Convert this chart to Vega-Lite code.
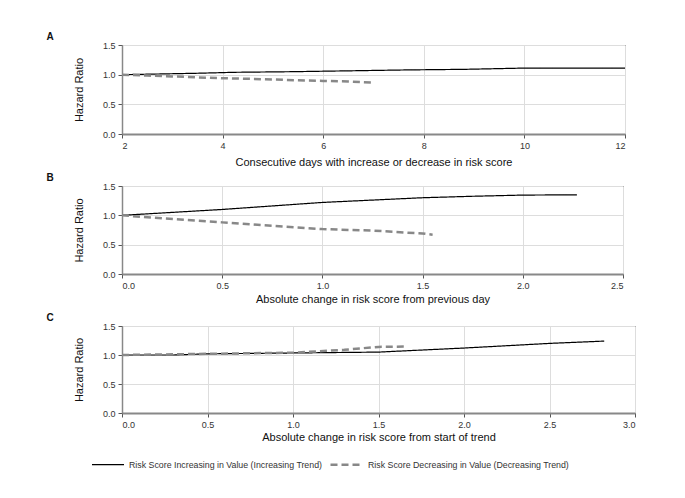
{
  "$schema": "https://vega.github.io/schema/vega-lite/v6.json",
  "autosize": {"type": "pad"},
  "padding": {"left": 45, "top": 31, "right": 5, "bottom": 5},
  "background": "white",
  "spacing": 52,
  "bounds": "flush",
  "resolve": {"scale": {"color": "shared", "strokeDash": "shared"}, "legend": {"color": "shared", "strokeDash": "shared"}},
  "config": {
    "font": "Liberation Sans",
    "view": {"stroke": "#000", "strokeWidth": 1},
    "axis": {
      "grid": true,
      "gridColor": "#dddddd",
      "gridWidth": 1,
      "labelFont": "Liberation Sans",
      "labelFontSize": 9,
      "labelColor": "#333",
      "titleFont": "Liberation Sans",
      "titleFontSize": 11,
      "titleFontWeight": "normal",
      "titleColor": "#111",
      "tickColor": "#555",
      "tickSize": 4,
      "labelPadding": 3,
      "domainColor": "#888"
    },
    "axisX": {"domainWidth": 2, "titlePadding": 4},
    "axisY": {"domainWidth": 1.5, "titlePadding": 18},
    "title": {"anchor": "start", "frame": "bounds", "fontSize": 10, "fontWeight": "bold", "font": "Liberation Sans", "color": "#111", "offset": -1, "dx": -27}
  },
  "datasets": {
    "pts": [
      {"panel": "A", "series": "Risk Score Increasing in Value (Increasing Trend)", "x": 2.0, "y": 1.0},
      {"panel": "A", "series": "Risk Score Increasing in Value (Increasing Trend)", "x": 2.95, "y": 1.015},
      {"panel": "A", "series": "Risk Score Increasing in Value (Increasing Trend)", "x": 3.57, "y": 1.025},
      {"panel": "A", "series": "Risk Score Increasing in Value (Increasing Trend)", "x": 4.24, "y": 1.04},
      {"panel": "A", "series": "Risk Score Increasing in Value (Increasing Trend)", "x": 5.37, "y": 1.05},
      {"panel": "A", "series": "Risk Score Increasing in Value (Increasing Trend)", "x": 6.53, "y": 1.065},
      {"panel": "A", "series": "Risk Score Increasing in Value (Increasing Trend)", "x": 7.66, "y": 1.08},
      {"panel": "A", "series": "Risk Score Increasing in Value (Increasing Trend)", "x": 8.81, "y": 1.09},
      {"panel": "A", "series": "Risk Score Increasing in Value (Increasing Trend)", "x": 9.95, "y": 1.11},
      {"panel": "A", "series": "Risk Score Increasing in Value (Increasing Trend)", "x": 12.0, "y": 1.11},
      {"panel": "A", "series": "Risk Score Decreasing in Value (Decreasing Trend)", "x": 2.0, "y": 1.0},
      {"panel": "A", "series": "Risk Score Decreasing in Value (Decreasing Trend)", "x": 2.5, "y": 0.985},
      {"panel": "A", "series": "Risk Score Decreasing in Value (Decreasing Trend)", "x": 3.0, "y": 0.97},
      {"panel": "A", "series": "Risk Score Decreasing in Value (Decreasing Trend)", "x": 3.5, "y": 0.955},
      {"panel": "A", "series": "Risk Score Decreasing in Value (Decreasing Trend)", "x": 4.0, "y": 0.94},
      {"panel": "A", "series": "Risk Score Decreasing in Value (Decreasing Trend)", "x": 4.5, "y": 0.93},
      {"panel": "A", "series": "Risk Score Decreasing in Value (Decreasing Trend)", "x": 5.0, "y": 0.92},
      {"panel": "A", "series": "Risk Score Decreasing in Value (Decreasing Trend)", "x": 5.5, "y": 0.905},
      {"panel": "A", "series": "Risk Score Decreasing in Value (Decreasing Trend)", "x": 6.0, "y": 0.895},
      {"panel": "A", "series": "Risk Score Decreasing in Value (Decreasing Trend)", "x": 6.5, "y": 0.885},
      {"panel": "A", "series": "Risk Score Decreasing in Value (Decreasing Trend)", "x": 7.0, "y": 0.865},
      {"panel": "B", "series": "Risk Score Increasing in Value (Increasing Trend)", "x": 0.0, "y": 1.0},
      {"panel": "B", "series": "Risk Score Increasing in Value (Increasing Trend)", "x": 0.1, "y": 1.02},
      {"panel": "B", "series": "Risk Score Increasing in Value (Increasing Trend)", "x": 0.3, "y": 1.06},
      {"panel": "B", "series": "Risk Score Increasing in Value (Increasing Trend)", "x": 0.5, "y": 1.1},
      {"panel": "B", "series": "Risk Score Increasing in Value (Increasing Trend)", "x": 0.75, "y": 1.16},
      {"panel": "B", "series": "Risk Score Increasing in Value (Increasing Trend)", "x": 1.0, "y": 1.22},
      {"panel": "B", "series": "Risk Score Increasing in Value (Increasing Trend)", "x": 1.25, "y": 1.26},
      {"panel": "B", "series": "Risk Score Increasing in Value (Increasing Trend)", "x": 1.5, "y": 1.3},
      {"panel": "B", "series": "Risk Score Increasing in Value (Increasing Trend)", "x": 1.75, "y": 1.325},
      {"panel": "B", "series": "Risk Score Increasing in Value (Increasing Trend)", "x": 2.0, "y": 1.345},
      {"panel": "B", "series": "Risk Score Increasing in Value (Increasing Trend)", "x": 2.27, "y": 1.35},
      {"panel": "B", "series": "Risk Score Decreasing in Value (Decreasing Trend)", "x": 0.0, "y": 1.0},
      {"panel": "B", "series": "Risk Score Decreasing in Value (Decreasing Trend)", "x": 0.2, "y": 0.95},
      {"panel": "B", "series": "Risk Score Decreasing in Value (Decreasing Trend)", "x": 0.5, "y": 0.88},
      {"panel": "B", "series": "Risk Score Decreasing in Value (Decreasing Trend)", "x": 0.75, "y": 0.82},
      {"panel": "B", "series": "Risk Score Decreasing in Value (Decreasing Trend)", "x": 1.0, "y": 0.765},
      {"panel": "B", "series": "Risk Score Decreasing in Value (Decreasing Trend)", "x": 1.25, "y": 0.74},
      {"panel": "B", "series": "Risk Score Decreasing in Value (Decreasing Trend)", "x": 1.5, "y": 0.69},
      {"panel": "B", "series": "Risk Score Decreasing in Value (Decreasing Trend)", "x": 1.55, "y": 0.67},
      {"panel": "C", "series": "Risk Score Increasing in Value (Increasing Trend)", "x": 0.0, "y": 1.0},
      {"panel": "C", "series": "Risk Score Increasing in Value (Increasing Trend)", "x": 0.3, "y": 1.0},
      {"panel": "C", "series": "Risk Score Increasing in Value (Increasing Trend)", "x": 0.5, "y": 1.02},
      {"panel": "C", "series": "Risk Score Increasing in Value (Increasing Trend)", "x": 1.0, "y": 1.035},
      {"panel": "C", "series": "Risk Score Increasing in Value (Increasing Trend)", "x": 1.5, "y": 1.05},
      {"panel": "C", "series": "Risk Score Increasing in Value (Increasing Trend)", "x": 2.0, "y": 1.12},
      {"panel": "C", "series": "Risk Score Increasing in Value (Increasing Trend)", "x": 2.5, "y": 1.2},
      {"panel": "C", "series": "Risk Score Increasing in Value (Increasing Trend)", "x": 2.82, "y": 1.24},
      {"panel": "C", "series": "Risk Score Decreasing in Value (Decreasing Trend)", "x": 0.0, "y": 1.0},
      {"panel": "C", "series": "Risk Score Decreasing in Value (Decreasing Trend)", "x": 0.5, "y": 1.02},
      {"panel": "C", "series": "Risk Score Decreasing in Value (Decreasing Trend)", "x": 1.0, "y": 1.04},
      {"panel": "C", "series": "Risk Score Decreasing in Value (Decreasing Trend)", "x": 1.3, "y": 1.09},
      {"panel": "C", "series": "Risk Score Decreasing in Value (Decreasing Trend)", "x": 1.5, "y": 1.14},
      {"panel": "C", "series": "Risk Score Decreasing in Value (Decreasing Trend)", "x": 1.65, "y": 1.145}
    ]
  },
  "vconcat": [
    {
      "title": "A",
      "width": 503, "height": 89,
      "data": {"name": "pts"},
      "transform": [{"filter": "datum.panel === 'A'"}],
      "mark": {"type": "line", "clip": true},
      "encoding": {
        "x": {"field": "x", "type": "quantitative", "scale": {"domain": [2, 12], "nice": false}, "axis": {"values": [2, 4, 6, 8, 10, 12], "title": "Consecutive days with increase or decrease in risk score", "titlePadding": 6}},
        "y": {"field": "y", "type": "quantitative", "scale": {"domain": [0, 1.5], "nice": false}, "axis": {"values": [0, 0.5, 1, 1.5], "format": ".1f", "title": "Hazard Ratio"}},
        "color": {"field": "series", "type": "nominal", "scale": {"domain": ["Risk Score Increasing in Value (Increasing Trend)", "Risk Score Decreasing in Value (Decreasing Trend)"], "range": ["#000000", "#888888"]}, "legend": {"orient": "none", "legendX": -31, "legendY": 402, "direction": "horizontal", "title": null, "labelFontSize": 8.8, "labelColor": "#333", "symbolSize": 1024, "symbolStrokeWidth": 2, "columnPadding": 2, "labelLimit": 400, "symbolType": "stroke"}},
        "strokeDash": {"field": "series", "type": "nominal", "scale": {"domain": ["Risk Score Increasing in Value (Increasing Trend)", "Risk Score Decreasing in Value (Decreasing Trend)"], "range": [[1, 0], [7, 4]]}},
        "strokeWidth": {"field": "series", "type": "nominal", "scale": {"domain": ["Risk Score Increasing in Value (Increasing Trend)", "Risk Score Decreasing in Value (Decreasing Trend)"], "range": [1.2, 2.5]}, "legend": null}
      }
    },
    {
      "title": "B",
      "width": 501, "height": 88,
      "data": {"name": "pts"},
      "transform": [{"filter": "datum.panel === 'B'"}],
      "mark": {"type": "line", "clip": true},
      "encoding": {
        "x": {"field": "x", "type": "quantitative", "scale": {"domain": [0, 2.5], "nice": false}, "axis": {"values": [0, 0.5, 1, 1.5, 2, 2.5], "format": ".1f", "title": "Absolute change in risk score from previous day", "titlePadding": 3}},
        "y": {"field": "y", "type": "quantitative", "scale": {"domain": [0, 1.5], "nice": false}, "axis": {"values": [0, 0.5, 1, 1.5], "format": ".1f", "title": "Hazard Ratio"}},
        "color": {"field": "series", "type": "nominal"},
        "strokeDash": {"field": "series", "type": "nominal"},
        "strokeWidth": {"field": "series", "type": "nominal", "scale": {"domain": ["Risk Score Increasing in Value (Increasing Trend)", "Risk Score Decreasing in Value (Decreasing Trend)"], "range": [1.2, 2.5]}, "legend": null}
      }
    },
    {
      "title": "C",
      "width": 513, "height": 87,
      "data": {"name": "pts"},
      "transform": [{"filter": "datum.panel === 'C'"}],
      "mark": {"type": "line", "clip": true},
      "encoding": {
        "x": {"field": "x", "type": "quantitative", "scale": {"domain": [0, 3], "nice": false}, "axis": {"values": [0, 0.5, 1, 1.5, 2, 2.5, 3], "format": ".1f", "title": "Absolute change in risk score from start of trend", "titlePadding": 2}},
        "y": {"field": "y", "type": "quantitative", "scale": {"domain": [0, 1.5], "nice": false}, "axis": {"values": [0, 0.5, 1, 1.5], "format": ".1f", "title": "Hazard Ratio"}},
        "color": {"field": "series", "type": "nominal"},
        "strokeDash": {"field": "series", "type": "nominal"},
        "strokeWidth": {"field": "series", "type": "nominal", "scale": {"domain": ["Risk Score Increasing in Value (Increasing Trend)", "Risk Score Decreasing in Value (Decreasing Trend)"], "range": [1.2, 2.5]}, "legend": null}
      }
    }
  ]
}
